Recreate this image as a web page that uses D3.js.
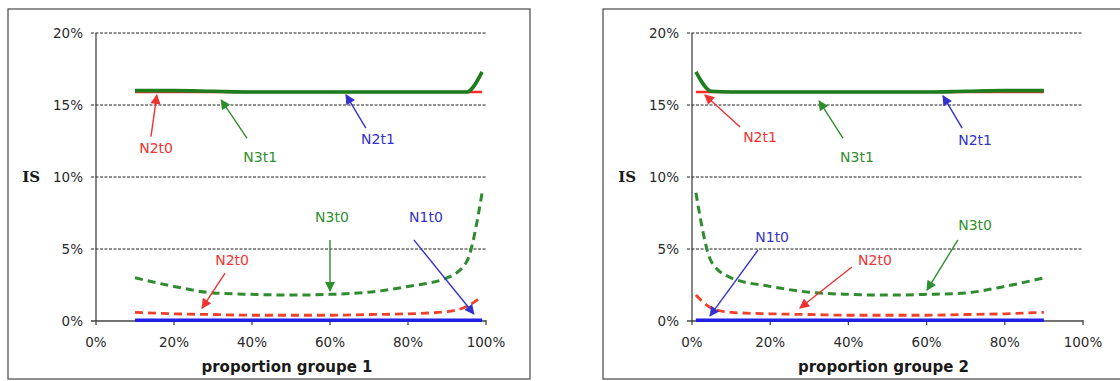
<!DOCTYPE html>
<html>
<head>
<meta charset="utf-8">
<script src="https://cdn.jsdelivr.net/npm/d3@7"></script>
<style>
  html, body { margin: 0; padding: 0; background: #fff; }
  svg { display: block; }
  .tick-label { font-family: "DejaVu Sans", Verdana, sans-serif; font-size: 13.5px; fill: #2a2a2a; }
  .note { font-family: "DejaVu Sans", Verdana, sans-serif; font-size: 14px; }
  .axis-title { font-family: "DejaVu Sans", Verdana, sans-serif; font-size: 15px; font-weight: bold; fill: #1a1a1a; }
  .is-label { font-family: "DejaVu Serif", Georgia, serif; font-size: 15px; font-weight: bold; fill: #1a1a1a; }
</style>
</head>
<body>
<svg id="chart" width="1120" height="381"></svg>
<script>
// y ticks (percent)
const yTicks = [0, 5, 10, 15, 20];
const xTicks = [0, 0.2, 0.4, 0.6, 0.8, 1];

// panel 1 : proportion groupe 1
const x1 = [0.1, 0.2, 0.3, 0.4, 0.5, 0.6, 0.7, 0.8, 0.9, 0.95, 0.99];
const p1_N1t0 = [0.05, 0.05, 0.05, 0.05, 0.05, 0.05, 0.05, 0.05, 0.05, 0.05, 0.05];
const p1_N2t0 = [0.6, 0.5, 0.45, 0.4, 0.4, 0.4, 0.45, 0.5, 0.65, 1.0, 1.7];
const p1_N3t0 = [3.0, 2.4, 1.95, 1.85, 1.8, 1.85, 2.0, 2.4, 3.0, 4.1, 8.9];
const p1_N2t1 = [15.9, 15.9, 15.9, 15.9, 15.9, 15.9, 15.9, 15.9, 15.9, 15.9, 15.9];
const p1_N3t1 = [16.0, 16.0, 15.95, 15.9, 15.9, 15.9, 15.9, 15.9, 15.9, 15.9, 17.3];

// panel 2 : proportion groupe 2
const x2 = [0.01, 0.05, 0.1, 0.2, 0.3, 0.4, 0.5, 0.6, 0.7, 0.8, 0.9];
const p2_N1t0 = [0.05, 0.05, 0.05, 0.05, 0.05, 0.05, 0.05, 0.05, 0.05, 0.05, 0.05];
const p2_N2t0 = [1.8, 0.9, 0.6, 0.5, 0.45, 0.4, 0.4, 0.4, 0.45, 0.5, 0.6];
const p2_N3t0 = [8.9, 4.1, 3.0, 2.4, 2.0, 1.85, 1.8, 1.85, 1.95, 2.4, 3.0];
const p2_N2t1 = [15.9, 15.9, 15.9, 15.9, 15.9, 15.9, 15.9, 15.9, 15.9, 15.9, 15.9];
const p2_N3t1 = [17.3, 15.95, 15.9, 15.9, 15.9, 15.9, 15.9, 15.9, 15.95, 16.0, 16.0];

// annotations: label, colour key, label position, arrow start, arrow tip (data units)
const notes1 = [
  { text: "N2t0", c: "red", lx: 0.154, ly: 12.0, fx: 0.141, fy: 12.8, tx: 0.156, ty: 15.7 },
  { text: "N3t1", c: "green", lx: 0.421, ly: 11.4, fx: 0.387, fy: 12.7, tx: 0.321, ty: 15.35 },
  { text: "N2t1", c: "blue", lx: 0.723, ly: 12.6, fx: 0.692, fy: 13.4, tx: 0.641, ty: 15.7 },
  { text: "N2t0", c: "red", lx: 0.349, ly: 4.24, fx: 0.331, fy: 3.33, tx: 0.272, ty: 0.9 },
  { text: "N3t0", c: "green", lx: 0.605, ly: 7.22, fx: 0.6, fy: 5.63, tx: 0.6, ty: 2.08 },
  { text: "N1t0", c: "blue", lx: 0.846, ly: 7.22, fx: 0.815, fy: 5.63, tx: 0.969, ty: 0.49 },
];
const notes2 = [
  { text: "N2t1", c: "red", lx: 0.174, ly: 12.78, fx: 0.123, fy: 13.47, tx: 0.033, ty: 15.7 },
  { text: "N3t1", c: "green", lx: 0.422, ly: 11.39, fx: 0.386, fy: 12.7, tx: 0.325, ty: 15.28 },
  { text: "N2t1", c: "blue", lx: 0.724, ly: 12.57, fx: 0.691, fy: 13.4, tx: 0.642, ty: 15.63 },
  { text: "N1t0", c: "blue", lx: 0.205, ly: 5.83, fx: 0.169, fy: 4.93, tx: 0.046, ty: 0.35 },
  { text: "N2t0", c: "red", lx: 0.468, ly: 4.24, fx: 0.409, fy: 3.75, tx: 0.276, ty: 0.9 },
  { text: "N3t0", c: "green", lx: 0.724, ly: 6.67, fx: 0.68, fy: 5.63, tx: 0.601, ty: 2.15 },
];

const noteColors = { red: "#ee3333", green: "#2f8f2f", blue: "#3333cc" };

const svg = d3.select("#chart");

const defs = svg.append("defs");
Object.entries(noteColors).forEach(([k, col]) => {
  defs.append("marker")
    .attr("id", "arrow-" + k)
    .attr("viewBox", "0 0 10 10")
    .attr("refX", 9)
    .attr("refY", 5)
    .attr("markerWidth", 11)
    .attr("markerHeight", 10)
    .attr("markerUnits", "userSpaceOnUse")
    .attr("orient", "auto")
    .append("path")
    .attr("d", "M0,0 L10,5 L0,10 z")
    .attr("fill", col);
});

function drawPanel(opt) {
  const { box, plot, xs, series, notes, title } = opt;

  svg.append("rect")
    .attr("x", box.x).attr("y", box.y)
    .attr("width", box.w).attr("height", box.h)
    .attr("fill", "none").attr("stroke", "#555").attr("stroke-width", 1.3);

  const x = d3.scaleLinear().domain([0, 1]).range([plot.left, plot.right]);
  const y = d3.scaleLinear().domain([0, 20]).range([plot.bottom, plot.top]);

  // dashed grid
  svg.append("g")
    .selectAll("line")
    .data(yTicks.filter((d) => d > 0))
    .join("line")
    .attr("x1", plot.left - 5).attr("x2", plot.right)
    .attr("y1", (d) => y(d)).attr("y2", (d) => y(d))
    .attr("stroke", "#222").attr("stroke-width", 1)
    .attr("stroke-dasharray", "3,1.5");

  // y axis
  svg.append("line")
    .attr("x1", plot.left).attr("x2", plot.left)
    .attr("y1", y(20)).attr("y2", y(0))
    .attr("stroke", "#444").attr("stroke-width", 1.3);

  svg.append("g")
    .selectAll("text")
    .data(yTicks)
    .join("text")
    .attr("class", "tick-label")
    .attr("x", plot.left - 13)
    .attr("y", (d) => y(d))
    .attr("dy", "0.35em")
    .attr("text-anchor", "end")
    .text((d) => d + "%");

  svg.append("text")
    .attr("class", "is-label")
    .attr("x", plot.left - 56)
    .attr("y", y(10))
    .attr("dy", "0.35em")
    .attr("text-anchor", "end")
    .text("IS");

  // x axis
  svg.append("line")
    .attr("x1", plot.left - 5).attr("x2", plot.right)
    .attr("y1", y(0)).attr("y2", y(0))
    .attr("stroke", "#444").attr("stroke-width", 1.3);

  svg.append("g")
    .selectAll("line")
    .data(xTicks)
    .join("line")
    .attr("x1", (d) => x(d)).attr("x2", (d) => x(d))
    .attr("y1", y(0) - 1).attr("y2", y(0) + 4)
    .attr("stroke", "#444").attr("stroke-width", 1.3);

  svg.append("g")
    .selectAll("text")
    .data(xTicks)
    .join("text")
    .attr("class", "tick-label")
    .attr("x", (d) => x(d))
    .attr("y", y(0) + 26)
    .attr("text-anchor", "middle")
    .text((d) => Math.round(d * 100) + "%");

  svg.append("text")
    .attr("class", "axis-title")
    .attr("x", (plot.left + plot.right) / 2 - 4)
    .attr("y", y(0) + 51)
    .attr("text-anchor", "middle")
    .text(title);

  // series
  series.forEach((s) => {
    const pts = xs.map((xv, i) => [xv, s.values[i]]);
    const line = d3.line()
      .x((d) => x(d[0]))
      .y((d) => y(d[1]))
      .curve(d3.curveMonotoneX);
    svg.append("path")
      .datum(pts)
      .attr("d", line)
      .attr("fill", "none")
      .attr("stroke", s.color)
      .attr("stroke-width", s.width)
      .attr("stroke-dasharray", s.dash || null)
      .attr("stroke-linejoin", "round");
  });

  // annotations
  const g = svg.append("g");
  notes.forEach((n) => {
    g.append("line")
      .attr("x1", x(n.fx)).attr("y1", y(n.fy))
      .attr("x2", x(n.tx)).attr("y2", y(n.ty))
      .attr("stroke", noteColors[n.c])
      .attr("stroke-width", 1.4)
      .attr("marker-end", `url(#arrow-${n.c})`);
    g.append("text")
      .attr("class", "note")
      .attr("x", x(n.lx)).attr("y", y(n.ly))
      .attr("dy", "0.35em")
      .attr("text-anchor", "middle")
      .attr("fill", noteColors[n.c])
      .text(n.text);
  });
}

function seriesFor(n1, n2t0, n3t0, n2t1, n3t1) {
  return [
    { values: n1, color: "#1f1fe6", width: 3.4 },
    { values: n2t0, color: "#f0402a", width: 2.8, dash: "8,5" },
    { values: n3t0, color: "#2e8b2e", width: 3, dash: "8,5" },
    { values: n2t1, color: "#ff2a2a", width: 2.6 },
    { values: n3t1, color: "#1e7d1e", width: 3.6 },
  ];
}

drawPanel({
  box: { x: 8, y: 9, w: 522, h: 370 },
  plot: { left: 96, right: 486, top: 33, bottom: 321 },
  xs: x1,
  series: seriesFor(p1_N1t0, p1_N2t0, p1_N3t0, p1_N2t1, p1_N3t1),
  notes: notes1,
  title: "proportion groupe 1",
});

drawPanel({
  box: { x: 603, y: 9, w: 530, h: 370 },
  plot: { left: 692, right: 1083, top: 33, bottom: 321 },
  xs: x2,
  series: seriesFor(p2_N1t0, p2_N2t0, p2_N3t0, p2_N2t1, p2_N3t1),
  notes: notes2,
  title: "proportion groupe 2",
});
</script>
</body>
</html>
